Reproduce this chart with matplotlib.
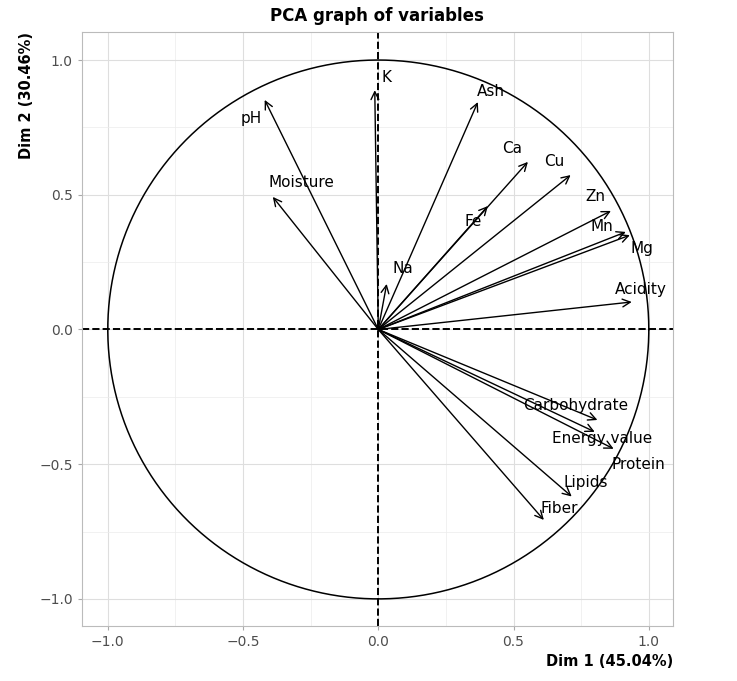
import numpy as np
import matplotlib
matplotlib.use("Agg")
import matplotlib.pyplot as plt

variables = ["K", "pH", "Ash", "Ca", "Cu", "Moisture", "Fe", "Zn", "Mn", "Mg", "Na",
             "Acidity", "Carbohydrate", "Energy value", "Protein", "Lipids", "Fiber"]
dim1 = [-0.013, -0.42, 0.368, 0.553, 0.711, -0.39, 0.405, 0.86, 0.915, 0.93, 0.031,
        0.937, 0.81, 0.80, 0.87, 0.715, 0.612]
dim2 = [0.888, 0.852, 0.844, 0.622, 0.573, 0.492, 0.458, 0.44, 0.362, 0.35, 0.169,
        0.102, -0.336, -0.38, -0.443, -0.62, -0.707]
ticks = [-1.0, -0.5, 0.0, 0.5, 1.0]
tick_labels = ["\u22121.0", "\u22120.5", "0.0", "0.5", "1.0"]

# label offsets in pixels (dx right, dy up)
label_off = [(12, 13), (-13, -19), (13, 11), (-16, 13), (-16, 14), (29, 14), (-15, -15),
             (-16, 14), (-24, 5), (12, -13), (16, 15), (9, 12), (-22, 14), (7, -7),
             (25, -16), (14, 14), (15, 11)]

fig = plt.figure(figsize=(7.37, 6.81), dpi=100)
ax = fig.add_axes([0.111, 0.081, 0.802, 0.872])
ax.set_xlim(-1.096, 1.089)
ax.set_ylim(-1.10, 1.104)

ax.set_xticks(ticks)
ax.set_xticklabels(tick_labels)
ax.set_yticks(ticks)
ax.set_yticklabels(tick_labels)
minor = [-0.75, -0.25, 0.25, 0.75]
ax.set_xticks(minor, minor=True)
ax.set_yticks(minor, minor=True)
ax.grid(True, which="major", color="#dedede", lw=0.8)
ax.grid(True, which="minor", color="#ececec", lw=0.5)
ax.set_axisbelow(True)
ax.tick_params(which="both", length=3, color="#aaaaaa", labelcolor="#4d4d4d", labelsize=10)
ax.tick_params(which="minor", length=0)
for s in ax.spines.values():
    s.set_color("#bbbbbb")
    s.set_linewidth(0.8)

t = np.linspace(0, 2 * np.pi, 400)
ax.plot(np.cos(t), np.sin(t), color="black", lw=1.1)
ax.axhline(0, color="black", ls="--", lw=1.4)
ax.axvline(0, color="black", ls="--", lw=1.4)

for name, x, y, (dx, dy) in zip(variables, dim1, dim2, label_off):
    ax.annotate("", xy=(x, y), xytext=(0, 0),
                arrowprops=dict(arrowstyle="->", color="black", lw=1.0,
                                mutation_scale=14, shrinkA=0, shrinkB=0))
    ax.annotate(name, xy=(x, y), xytext=(dx * 0.72, dy * 0.72), textcoords="offset points",
                ha="center", va="center", fontsize=11, color="black")

ax.set_title("PCA graph of variables", fontsize=12, fontweight="bold", pad=8)
ax.set_xlabel("Dim 1 (45.04%)", fontsize=10.5, fontweight="bold", loc="right")
ax.set_ylabel("Dim 2 (30.46%)", fontsize=10.5, fontweight="bold", loc="top")

fig.savefig("out.png", dpi=100, facecolor="white")
